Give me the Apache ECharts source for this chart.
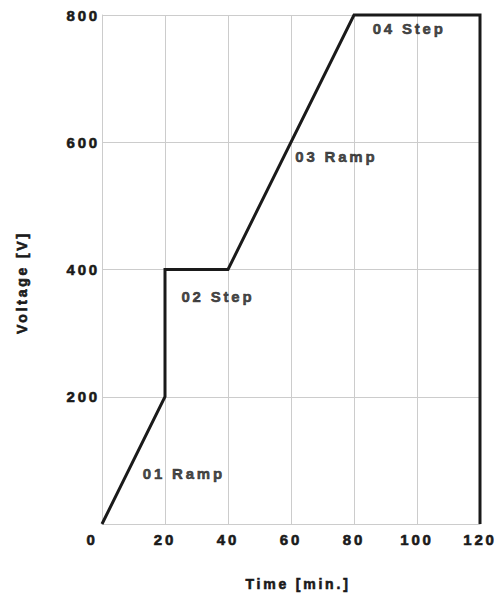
<!DOCTYPE html>
<html>
<head>
<meta charset="utf-8">
<title>Voltage program</title>
<script src="https://cdn.jsdelivr.net/npm/echarts@6/dist/echarts.min.js"></script>
<style>
  html, body { margin: 0; padding: 0; background: #fff; }
  #chart { width: 498px; height: 597px; }
  /* the reference uses wide tracking on all its text */
  #chart text { letter-spacing: 2.8px; }
</style>
</head>
<body>
<div id="chart"></div>
<script>
// voltage program: time (min) / voltage (V) corner points
const timePoints = [0, 20, 20, 40, 80, 120, 120];
const voltagePoints = [0, 200, 400, 400, 800, 800, 0];
// step names and where they are written (time, voltage)
const stepNames = ["01 Ramp", "02 Step", "03 Ramp", "04 Step"];
const stepTimes = [26, 36.8, 74.4, 97.5];
const stepVoltages = [79, 357, 577, 778];

const textColor = "#1a1a1a";
const gridColor = "#cccccc";

// heavy bold look of the reference lettering
let boldText = {
  color: textColor,
  fontFamily: "Liberation Sans",
  fontWeight: "bold",
  fontSize: 15,
  textBorderColor: textColor,
  textBorderWidth: 0.6,
};

let chart = echarts.init(document.getElementById("chart"), null, { renderer: "svg" });

let option = {
  animation: false,
  grid: {
    left: 102,
    right: 18,
    top: 15,
    bottom: 73,
    containLabel: false,
    outerBoundsMode: "none",
  },
  xAxis: {
    type: "value",
    min: 0,
    max: 120,
    interval: 20,
    name: "Time [min.]",
    nameLocation: "middle",
    nameGap: 53,
    nameTextStyle: Object.assign({}, boldText, {
      fontSize: 14,
      padding: [0, 0, 0, 14],
    }),
    axisLine: { show: true, lineStyle: { color: gridColor, width: 1 } },
    axisTick: { show: false },
    splitLine: { show: true, lineStyle: { color: gridColor, width: 1 } },
    axisLabel: Object.assign({}, boldText, {
      margin: 8,
      formatter: function (v) {
        // the origin "0" sits left of the axis corner
        return v === 0 ? "{o|0}" : String(v);
      },
      rich: {
        o: Object.assign({}, boldText, { padding: [0, 20, 0, 0] }),
      },
    }),
  },
  yAxis: {
    type: "value",
    min: 0,
    max: 800,
    interval: 200,
    name: "Voltage [V]",
    nameLocation: "middle",
    nameGap: 73,
    nameTextStyle: Object.assign({}, boldText, {
      fontSize: 14,
      padding: [0, 26, 0, 0],
    }),
    axisLine: { show: true, lineStyle: { color: gridColor, width: 1 } },
    axisTick: { show: false },
    splitLine: { show: true, lineStyle: { color: gridColor, width: 1 } },
    axisLabel: Object.assign({}, boldText, {
      margin: 2,
      formatter: function (v) {
        return v === 0 ? "" : String(v);
      },
    }),
  },
  series: [
    {
      type: "line",
      data: timePoints.map((t, i) => [t, voltagePoints[i]]),
      showSymbol: false,
      clip: false,
      lineStyle: { color: "#1a1a1a", width: 3, join: "miter" },
      z: 3,
    },
    {
      type: "scatter",
      symbolSize: 0,
      data: stepNames.map((n, i) => ({ name: n, value: [stepTimes[i], stepVoltages[i]] })),
      label: Object.assign({}, boldText, {
        show: true,
        position: "inside",
        formatter: "{b}",
      }),
      silent: true,
      z: 4,
    },
  ],
};

chart.setOption(option, true);
</script>
</body>
</html>
